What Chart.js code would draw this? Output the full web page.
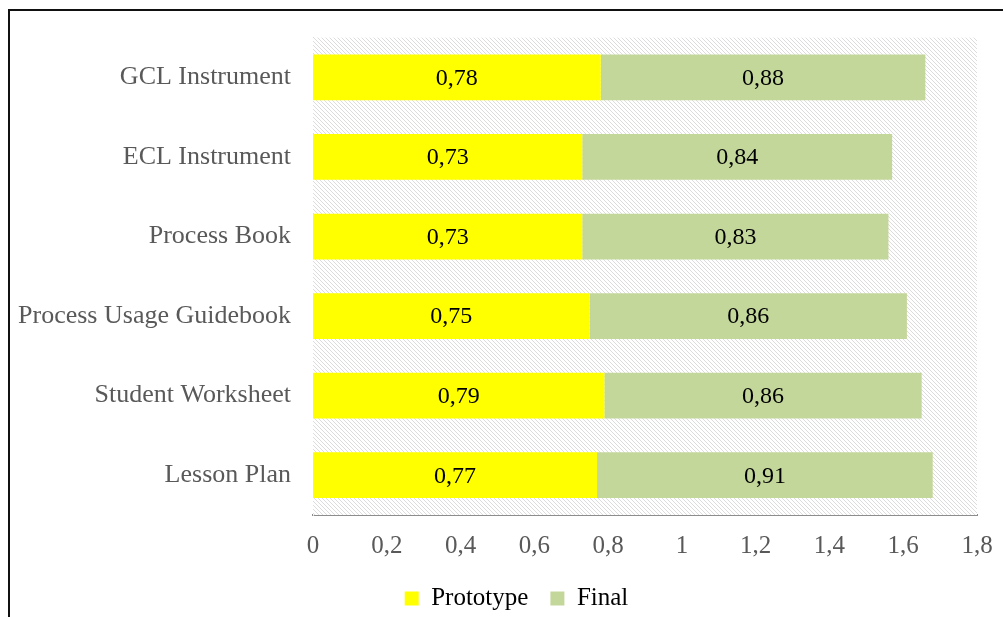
<!DOCTYPE html>
<html>
<head>
<meta charset="utf-8">
<script src="https://cdn.jsdelivr.net/npm/chart.js@4"></script>
<style>
  body { margin: 0; background: #fff; overflow: hidden; }
  #wrap { position: relative; width: 1003px; height: 617px; overflow: hidden; }
  #frame { position: absolute; left: 8px; top: 9px; width: 1010px; height: 700px; border: 2px solid #111; pointer-events: none; }
</style>
</head>
<body>
<div id="wrap">
  <canvas id="chart" width="1003" height="640"></canvas>
  <div id="frame"></div>
</div>
<script>
// data
const categories = ['GCL Instrument', 'ECL Instrument', 'Process Book', 'Process Usage Guidebook', 'Student Worksheet', 'Lesson Plan']
const prototypeVals = [0.78, 0.73, 0.73, 0.75, 0.79, 0.77]
const finalVals = [0.88, 0.84, 0.83, 0.86, 0.86, 0.91]
const xTicks = [0, 0.2, 0.4, 0.6, 0.8, 1, 1.2, 1.4, 1.6, 1.8]

const fmt = v => String(Math.round(v * 100) / 100).replace('.', ',')

// hatch pattern for the plot area
function makeHatch() {
    const p = document.createElement('canvas')
    p.width = 4
    p.height = 4
    const c = p.getContext('2d')
    c.fillStyle = '#fff'
    c.fillRect(0, 0, 4, 4)
    c.strokeStyle = '#dcdcdc'
    c.lineWidth = 1
    c.beginPath()
    c.moveTo(-1, -1); c.lineTo(5, 5)
    c.moveTo(-1, 3); c.lineTo(1, 5)
    c.moveTo(3, -1); c.lineTo(5, 1)
    c.stroke()
    return p
}

const hatchBg = {
    id: 'hatchBg',
    beforeDatasetsDraw(chart) {
        const { ctx, chartArea } = chart
        ctx.save()
        ctx.fillStyle = ctx.createPattern(makeHatch(), 'repeat')
        ctx.fillRect(chartArea.left, chartArea.top, chartArea.right - chartArea.left, chartArea.bottom - chartArea.top)
        ctx.restore()
    }
}

// legend sits centred under the whole figure, not under the chart box
const legendShift = {
    id: 'legendShift',
    afterLayout(chart) {
        const lg = chart.legend
        lg.left += 28
        lg.right += 28
    }
}

// values printed in the middle of each bar
const barLabels = {
    id: 'barLabels',
    afterDatasetsDraw(chart) {
        const ctx = chart.ctx
        ctx.save()
        ctx.font = '24px "Liberation Serif"'
        ctx.fillStyle = '#000'
        ctx.textAlign = 'center'
        ctx.textBaseline = 'middle'
        chart.data.datasets.forEach((ds, i) => {
            chart.getDatasetMeta(i).data.forEach((bar, j) => {
                const cx = (bar.x + bar.base) / 2
                ctx.fillText(fmt(ds.data[j]), cx, bar.y + 1)
            })
        })
        ctx.restore()
    }
}

const ctx = document.getElementById('chart').getContext('2d')
const chart = new Chart(ctx, {
    type: 'bar',
    data: {
        labels: categories,
        datasets: [{
            label: 'Prototype',
            data: prototypeVals,
            backgroundColor: '#ffff00',
            barPercentage: 0.575,
            categoryPercentage: 1
        }, {
            label: 'Final',
            data: finalVals,
            backgroundColor: '#c4d79b',
            barPercentage: 0.575,
            categoryPercentage: 1
        }]
    },
    options: {
        indexAxis: 'y',
        responsive: false,
        animation: false,
        layout: { padding: { top: 35, right: 26, left: 0, bottom: 19 } },
        scales: {
            x: {
                stacked: true,
                min: 0,
                max: 1.8,
                afterBuildTicks: s => { s.ticks = xTicks.map(v => ({ value: v })) },
                afterFit: s => { s.height = 49; s.paddingRight = 0; s.paddingLeft = 0 },
                grid: { display: false, drawTicks: false },
                border: { color: '#8c8c8c', width: 2 },
                ticks: {
                    color: '#595959',
                    padding: 16,
                    maxRotation: 0,
                    font: { family: 'Liberation Serif', size: 25 },
                    callback: v => fmt(v)
                }
            },
            y: {
                stacked: true,
                afterFit: s => { s.width = 313 },
                grid: { display: false, drawTicks: false },
                border: { color: '#d9d9d9', width: 1 },
                ticks: {
                    color: '#595959',
                    padding: 22,
                    font: { family: 'Liberation Serif', size: 26 }
                }
            }
        },
        plugins: {
            legend: {
                position: 'bottom',
                labels: {
                    color: '#000',
                    boxWidth: 14,
                    boxHeight: 14,
                    padding: 22,
                    font: { family: 'Liberation Serif', size: 25 }
                }
            },
            tooltip: { enabled: false }
        }
    },
    plugins: [hatchBg, legendShift, barLabels]
})
</script>
</body>
</html>
